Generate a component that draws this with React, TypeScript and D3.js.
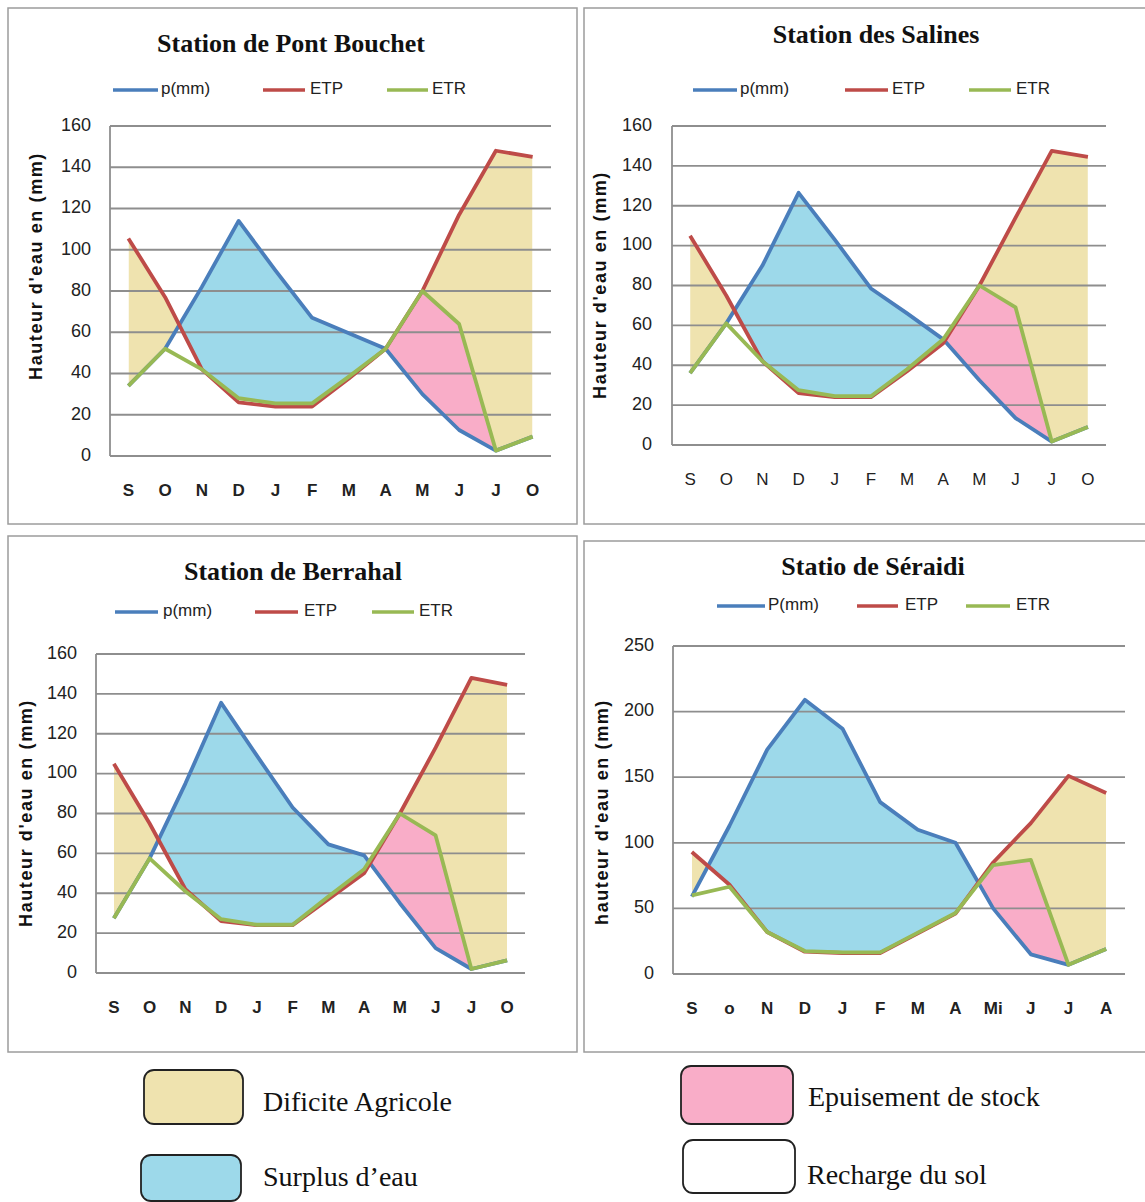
import React from 'react';
import * as d3 from 'd3';

// ---------- DATA ----------
const monthsStd = ['S', 'O', 'N', 'D', 'J', 'F', 'M', 'A', 'M', 'J', 'J', 'O'];
const monthsSeraidi = ['S', 'o', 'N', 'D', 'J', 'F', 'M', 'A', 'Mi', 'J', 'J', 'A'];

const pontBouchetP = [34, 52, 82, 114, 90, 67, 59.5, 52, 30, 12.6, 2.6, 9.4];
const pontBouchetETP = [105.5, 77, 42, 26, 24, 24, 37.6, 52, 80, 117, 148, 145];
const pontBouchetETR = [34, 52, 42, 28, 25.5, 25.5, 38.5, 52, 80, 64, 2.6, 9.4];

const salinesP = [36, 61, 90, 126.5, 103, 78.5, 66, 53, 32.5, 13.5, 1.7, 9];
const salinesETP = [105, 75, 42, 26, 24, 24, 37, 51, 80, 114, 147.5, 144.5];
const salinesETR = [36, 61, 42, 27.5, 24.5, 24.5, 38, 53, 80, 69, 1.7, 9];

const berrahalP = [27.5, 57.5, 95, 135.5, 109, 83, 64.5, 59, 35, 12.5, 2, 6.3];
const berrahalETP = [105, 75, 42, 26, 24, 24, 37, 50, 80, 113, 148, 144.5];
const berrahalETR = [27.5, 57.5, 41, 27, 24.2, 24.2, 38.4, 52, 80, 69, 2, 6.3];

const seraidiP = [59, 113, 171, 209, 187, 131, 110, 100, 50, 15, 7, 19];
const seraidiETP = [93, 68, 32, 17, 16, 16, 31, 46, 85, 115, 151, 138];
const seraidiETR = [60, 66.5, 32, 17.5, 16.5, 16.5, 31.5, 46.5, 83, 87, 7, 19];

const legendLabels = ['Dificite Agricole', 'Surplus d\u2019eau', 'Epuisement de stock', 'Recharge du sol'];

// ---------- STYLE ----------
const C_P = '#4A7EBB';
const C_ETP = '#BE4B48';
const C_ETR = '#98B954';
const F_DEF = '#EFE3AF';
const F_SUR = '#9DD9EA';
const F_EPU = '#F9ADC8';
const GRID = '#8e8e8e';
const SANS = '"Liberation Sans", Arial, sans-serif';
const SERIF = '"Liberation Serif", "Times New Roman", serif';

type Cfg = {
  id: string;
  title: string;
  titleX: number;
  titleY: number;
  box: [number, number, number, number];
  plot: { x0: number; x1: number; yTop: number; yBot: number };
  yMax: number;
  yStep: number;
  months: string[];
  P: number[];
  ETP: number[];
  ETR: number[];
  pLabel: string;
  legendY: number;
  leg: number[][];
  yTitle: string;
  yTitleX: number;
  yTitleY: number;
  monthY: number;
  monthBold: boolean;
  tickRight: number;
};

const panels: Cfg[] = [
  {
    id: 'pb', title: 'Station de Pont Bouchet', titleX: 291, titleY: 52,
    box: [8, 8, 577, 524], plot: { x0: 110, x1: 551, yTop: 126, yBot: 456 },
    yMax: 160, yStep: 20, months: monthsStd,
    P: pontBouchetP, ETP: pontBouchetETP, ETR: pontBouchetETR,
    pLabel: 'p(mm)', legendY: 90, leg: [[113, 158, 161], [263, 305, 310], [387, 428, 432]],
    yTitle: "Hauteur d'eau en (mm)", yTitleX: 37, yTitleY: 266, monthY: 492, monthBold: true, tickRight: 91,
  },
  {
    id: 'sa', title: 'Station des Salines', titleX: 876, titleY: 43,
    box: [584, 8, 1146, 524], plot: { x0: 672, x1: 1106, yTop: 126, yBot: 445 },
    yMax: 160, yStep: 20, months: monthsStd,
    P: salinesP, ETP: salinesETP, ETR: salinesETR,
    pLabel: 'p(mm)', legendY: 90, leg: [[693, 737, 740], [845, 888, 892], [969, 1011, 1016]],
    yTitle: "Hauteur d'eau en (mm)", yTitleX: 601, yTitleY: 285, monthY: 481, monthBold: false, tickRight: 652,
  },
  {
    id: 'be', title: 'Station de Berrahal', titleX: 293, titleY: 580,
    box: [8, 536, 577, 1052], plot: { x0: 96, x1: 525, yTop: 654, yBot: 973 },
    yMax: 160, yStep: 20, months: monthsStd,
    P: berrahalP, ETP: berrahalETP, ETR: berrahalETR,
    pLabel: 'p(mm)', legendY: 612, leg: [[115, 158, 163], [255, 298, 304], [372, 414, 419]],
    yTitle: "Hauteur d'eau en (mm)", yTitleX: 27, yTitleY: 813, monthY: 1009, monthBold: true, tickRight: 77,
  },
  {
    id: 'se', title: 'Statio de Séraidi', titleX: 873, titleY: 575,
    box: [584, 541, 1146, 1052], plot: { x0: 673, x1: 1125, yTop: 646, yBot: 974 },
    yMax: 250, yStep: 50, months: monthsSeraidi,
    P: seraidiP, ETP: seraidiETP, ETR: seraidiETR,
    pLabel: 'P(mm)', legendY: 606, leg: [[717, 765, 768], [857, 898, 905], [966, 1010, 1016]],
    yTitle: "hauteur d'eau en (mm)", yTitleX: 603, yTitleY: 812, monthY: 1010, monthBold: true, tickRight: 654,
  },
];

function Panel({ cfg }: { cfg: Cfg }) {
  const { plot } = cfg;
  const idx = d3.range(cfg.months.length);
  const x = d3.scaleBand<number>().domain(idx).range([plot.x0, plot.x1]);
  const cx = (i: number) => (x(i) as number) + x.bandwidth() / 2;
  const y = d3.scaleLinear().domain([0, cfg.yMax]).range([plot.yBot, plot.yTop]);
  const line = d3.line<number>().x((_, i) => cx(i)).y((d) => y(d));
  const below = d3.area<number>().x((_, i) => cx(i)).y0(y(0)).y1((d) => y(d));
  const above = d3.area<number>().x((_, i) => cx(i)).y0(0).y1((d) => y(d));
  const ticks = d3.range(0, cfg.yMax + 0.001, cfg.yStep);
  const id = cfg.id;
  const [bx0, by0, bx1, by1] = cfg.box;
  const legItems = [
    { c: C_P, t: cfg.pLabel },
    { c: C_ETP, t: 'ETP' },
    { c: C_ETR, t: 'ETR' },
  ];
  return (
    <g>
      <defs>
        <clipPath id={`${id}-aboveP`}><path d={above(cfg.P) as string} /></clipPath>
        <clipPath id={`${id}-aboveETP`}><path d={above(cfg.ETP) as string} /></clipPath>
        <clipPath id={`${id}-aboveETR`}><path d={above(cfg.ETR) as string} /></clipPath>
      </defs>
      <rect x={bx0} y={by0} width={bx1 - bx0} height={by1 - by0} fill="#fff" stroke="#9c9c9c" strokeWidth={1.5} />
      <text x={cfg.titleX} y={cfg.titleY} textAnchor="middle" fontFamily={SERIF} fontWeight="bold" fontSize={26} fill="#111">
        {cfg.title}
      </text>
      {legItems.map((l, k) => (
        <g key={k}>
          <line x1={cfg.leg[k][0]} x2={cfg.leg[k][1]} y1={cfg.legendY} y2={cfg.legendY} stroke={l.c} strokeWidth={3.5} />
          <text x={cfg.leg[k][2]} y={cfg.legendY} dominantBaseline="middle" fontFamily={SANS} fontSize={17} fill="#222">{l.t}</text>
        </g>
      ))}
      {/* fills */}
      <g clipPath={`url(#${id}-aboveETR)`}>
        <path d={below(cfg.ETP) as string} fill={F_DEF} clipPath={`url(#${id}-aboveP)`} />
      </g>
      <g clipPath={`url(#${id}-aboveETR)`}>
        <path d={below(cfg.P) as string} fill={F_SUR} clipPath={`url(#${id}-aboveETP)`} />
      </g>
      <path d={below(cfg.ETR) as string} fill={F_EPU} clipPath={`url(#${id}-aboveP)`} />
      {/* grid */}
      {ticks.map((t) => (
        <g key={t}>
          <line x1={plot.x0} x2={plot.x1} y1={y(t)} y2={y(t)} stroke={GRID} strokeWidth={1.8} />
          <text x={cfg.tickRight} y={y(t)} textAnchor="end" dominantBaseline="middle" fontFamily={SANS} fontSize={18} fill="#222">{t}</text>
        </g>
      ))}
      <line x1={plot.x0} x2={plot.x0} y1={plot.yTop} y2={plot.yBot} stroke={GRID} strokeWidth={1.8} />
      {idx.map((i) => (
        <text key={i} x={cx(i)} y={cfg.monthY} textAnchor="middle" dominantBaseline="middle" fontFamily={SANS}
          fontWeight={cfg.monthBold ? 'bold' : 'normal'} fontSize={17} fill="#222">{cfg.months[i]}</text>
      ))}
      <text transform={`translate(${cfg.yTitleX},${cfg.yTitleY}) rotate(-90)`} textAnchor="middle" dominantBaseline="middle"
        fontFamily={SANS} fontWeight="bold" fontSize={18} letterSpacing={1.6} fill="#111">{cfg.yTitle}</text>
      {/* lines */}
      <path d={line(cfg.P) as string} fill="none" stroke={C_P} strokeWidth={3.8} strokeLinejoin="round" />
      <path d={line(cfg.ETP) as string} fill="none" stroke={C_ETP} strokeWidth={3.8} strokeLinejoin="round" />
      <path d={line(cfg.ETR) as string} fill="none" stroke={C_ETR} strokeWidth={3.8} strokeLinejoin="round" />
    </g>
  );
}

export default function App() {
  const boxes = [
    { x: 144, y: 1070, w: 99, h: 54, fill: F_DEF, tx: 263, ty: 1105 },
    { x: 141, y: 1155, w: 100, h: 46, fill: F_SUR, tx: 263, ty: 1180 },
    { x: 681, y: 1066, w: 112, h: 58, fill: F_EPU, tx: 808, ty: 1100 },
    { x: 683, y: 1140, w: 112, h: 53, fill: '#fff', tx: 807, ty: 1178 },
  ];
  return (
    <svg width={1145} height={1202} style={{ position: 'absolute', left: 0, top: 0, background: '#fff' }}>
      <rect x={0} y={0} width={1145} height={1202} fill="#fff" />
      {panels.map((p) => (
        <Panel key={p.id} cfg={p} />
      ))}
      {boxes.map((b, k) => (
        <g key={k}>
          <rect x={b.x} y={b.y} width={b.w} height={b.h} rx={10} ry={10} fill={b.fill} stroke="#222" strokeWidth={1.8} />
          <text x={b.tx} y={b.ty} dominantBaseline="middle" fontFamily={SERIF} fontSize={28} fill="#111">{legendLabels[k]}</text>
        </g>
      ))}
    </svg>
  );
}
